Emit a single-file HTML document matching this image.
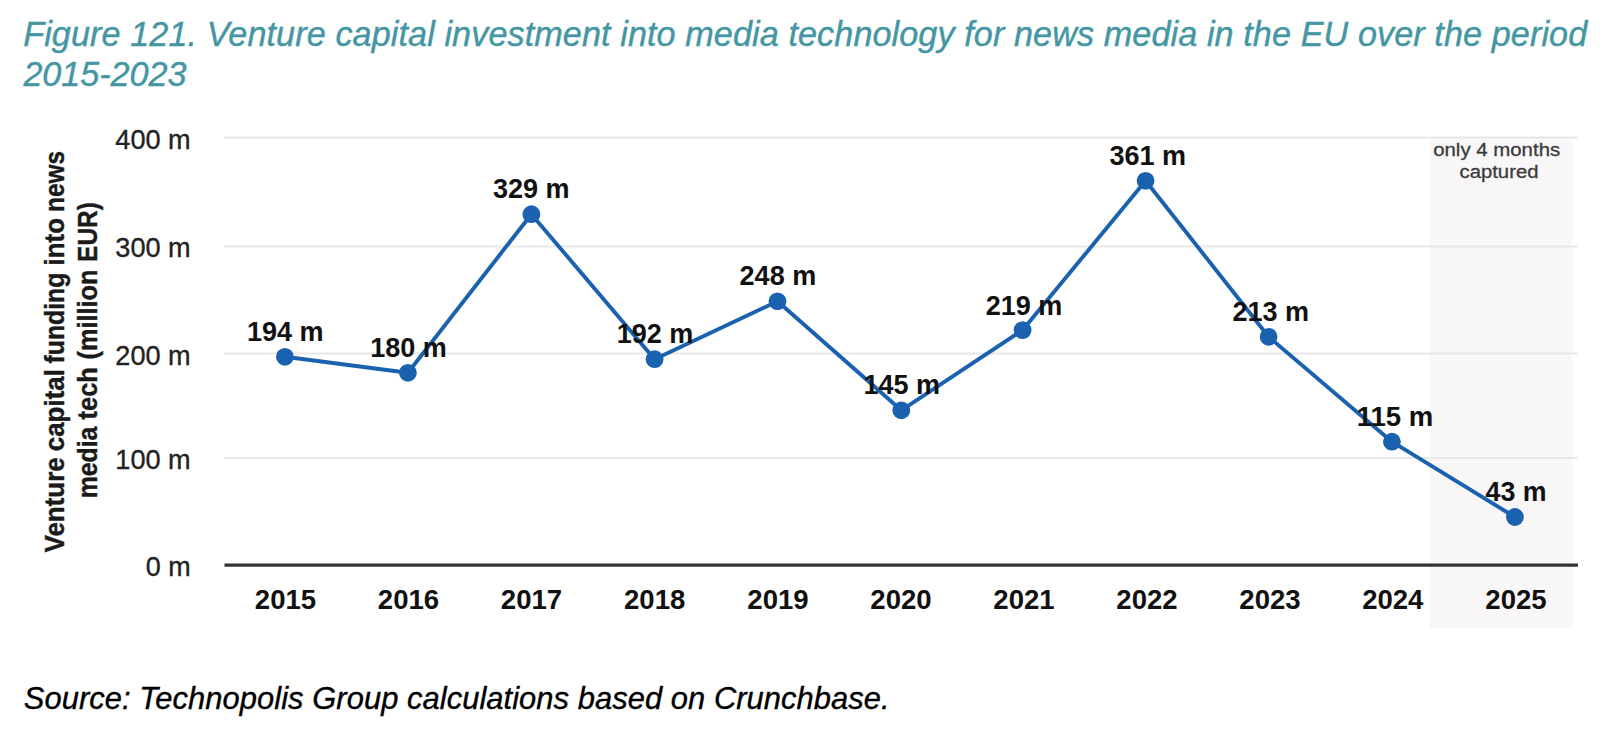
<!DOCTYPE html>
<html lang="en">
<head>
<meta charset="utf-8">
<title>Figure 121</title>
<style>
html,body{margin:0;padding:0;background:#fff;}
body{width:1616px;height:730px;overflow:hidden;position:relative;font-family:"Liberation Sans",sans-serif;}
svg{position:absolute;left:0;top:0;display:block;}
text{font-family:"Liberation Sans",sans-serif;}
.ttl{font-style:italic;font-size:34.2px;fill:#4596a3;stroke:#4596a3;stroke-width:0.4px;}
.src{font-style:italic;font-size:30.9px;fill:#000;stroke:#000;stroke-width:0.35px;}
.yl{font-size:27.5px;fill:#222;stroke:#222;stroke-width:0.35px;text-anchor:end;}
.xl{font-size:27.3px;font-weight:bold;fill:#111;text-anchor:middle;}
.dl{font-size:27px;font-weight:bold;fill:#111;text-anchor:middle;}
.yt{font-size:27px;font-weight:bold;fill:#1a1a1a;stroke:#1a1a1a;stroke-width:0.4px;text-anchor:start;}
.an{font-size:19.2px;fill:#3a3a3a;stroke:#3a3a3a;stroke-width:0.3px;text-anchor:middle;}
.grid line{stroke:#e8e8e8;stroke-width:2;}
</style>
</head>
<body>
<svg width="1616" height="730" viewBox="0 0 1616 730">
  <!-- title -->
  <text class="ttl" x="23.2" y="46" textLength="1564">Figure 121. Venture capital investment into media technology for news media in the EU over the period</text>
  <text class="ttl" x="23.4" y="85.6" textLength="163">2015-2023</text>

  <!-- shaded band -->
  <rect x="1430" y="138" width="142.6" height="490" fill="#f8f6f7"/>

  <!-- gridlines -->
  <g class="grid">
    <line x1="224.5" x2="1577.5" y1="137.4" y2="137.4"/>
    <line x1="224.5" x2="1577.5" y1="246.4" y2="246.4"/>
    <line x1="224.5" x2="1577.5" y1="353.4" y2="353.4"/>
    <line x1="224.5" x2="1577.5" y1="458" y2="458"/>
  </g>
  <line x1="224.5" x2="1578" y1="565.2" y2="565.2" stroke="#333" stroke-width="3.2"/>

  <!-- y labels -->
  <text class="yl" x="190.7" y="149.4" textLength="75.4" lengthAdjust="spacingAndGlyphs">400 m</text>
  <text class="yl" x="190.7" y="256.8" textLength="75.4" lengthAdjust="spacingAndGlyphs">300 m</text>
  <text class="yl" x="190.7" y="364.5" textLength="75.4" lengthAdjust="spacingAndGlyphs">200 m</text>
  <text class="yl" x="190.7" y="469" textLength="75.4" lengthAdjust="spacingAndGlyphs">100 m</text>
  <text class="yl" x="190.7" y="575.8" textLength="44.9" lengthAdjust="spacingAndGlyphs">0 m</text>

  <!-- y title -->
  <text class="yt" transform="translate(63.8 552.5) rotate(-90)" textLength="95.2" lengthAdjust="spacingAndGlyphs">Venture</text>
  <text class="yt" transform="translate(63.8 451.2) rotate(-90)" textLength="82.1" lengthAdjust="spacingAndGlyphs">capital</text>
  <text class="yt" transform="translate(63.8 363.5) rotate(-90)" textLength="90.9" lengthAdjust="spacingAndGlyphs">funding</text>
  <text class="yt" transform="translate(63.8 265.4) rotate(-90)" textLength="47.3" lengthAdjust="spacingAndGlyphs">into</text>
  <text class="yt" transform="translate(63.8 212.0) rotate(-90)" textLength="61.2" lengthAdjust="spacingAndGlyphs">news</text>
  <text class="yt" transform="translate(97 498.3) rotate(-90)" textLength="71.7" lengthAdjust="spacingAndGlyphs">media</text>
  <text class="yt" transform="translate(97 419.4) rotate(-90)" textLength="52.3" lengthAdjust="spacingAndGlyphs">tech</text>
  <text class="yt" transform="translate(97 359.4) rotate(-90)" textLength="89.9" lengthAdjust="spacingAndGlyphs">(million</text>
  <text class="yt" transform="translate(97 261.9) rotate(-90)" textLength="59.8" lengthAdjust="spacingAndGlyphs">EUR)</text>

  <!-- line -->
  <polyline fill="none" stroke="#1a62b0" stroke-width="3.9" stroke-linejoin="round" stroke-linecap="round"
    points="284.9,356.8 407.9,372.8 531.4,214.2 654.6,359.2 777.5,301.3 901.3,410.3 1022.6,330.1 1145.6,180.8 1268.6,336.8 1391.9,441.7 1514.9,517"/>
  <g fill="#1a62b0">
    <circle cx="284.9" cy="356.8" r="8.9"/>
    <circle cx="407.9" cy="372.8" r="8.9"/>
    <circle cx="531.4" cy="214.2" r="8.9"/>
    <circle cx="654.6" cy="359.2" r="8.9"/>
    <circle cx="777.5" cy="301.3" r="8.9"/>
    <circle cx="901.3" cy="410.3" r="8.9"/>
    <circle cx="1022.6" cy="330.1" r="8.9"/>
    <circle cx="1145.6" cy="180.8" r="8.9"/>
    <circle cx="1268.6" cy="336.8" r="8.9"/>
    <circle cx="1391.9" cy="441.7" r="8.9"/>
    <circle cx="1514.9" cy="517" r="8.9"/>
  </g>

  <!-- data labels -->
  <text class="dl" x="285.3" y="340.8" textLength="76.6" lengthAdjust="spacingAndGlyphs">194 m</text>
  <text class="dl" x="408.5" y="356.5" textLength="76.6" lengthAdjust="spacingAndGlyphs">180 m</text>
  <text class="dl" x="531.3" y="198.3" textLength="76.6" lengthAdjust="spacingAndGlyphs">329 m</text>
  <text class="dl" x="655.1" y="342.9" textLength="76.6" lengthAdjust="spacingAndGlyphs">192 m</text>
  <text class="dl" x="777.9" y="285.2" textLength="76.6" lengthAdjust="spacingAndGlyphs">248 m</text>
  <text class="dl" x="901.8" y="394.1" textLength="76.6" lengthAdjust="spacingAndGlyphs">145 m</text>
  <text class="dl" x="1024" y="314.5" textLength="76.6" lengthAdjust="spacingAndGlyphs">219 m</text>
  <text class="dl" x="1147.7" y="165.2" textLength="76.6" lengthAdjust="spacingAndGlyphs">361 m</text>
  <text class="dl" x="1270.7" y="320.8" textLength="76.6" lengthAdjust="spacingAndGlyphs">213 m</text>
  <text class="dl" x="1395" y="425.8" textLength="76.6" lengthAdjust="spacingAndGlyphs">115 m</text>
  <text class="dl" x="1516.1" y="501.4" textLength="61" lengthAdjust="spacingAndGlyphs">43 m</text>

  <!-- x labels -->
  <text class="xl" x="285.5" y="608.6" textLength="61.3" lengthAdjust="spacingAndGlyphs">2015</text>
  <text class="xl" x="408.5" y="608.6" textLength="61.3" lengthAdjust="spacingAndGlyphs">2016</text>
  <text class="xl" x="531.5" y="608.6" textLength="61.3" lengthAdjust="spacingAndGlyphs">2017</text>
  <text class="xl" x="654.7" y="608.6" textLength="61.3" lengthAdjust="spacingAndGlyphs">2018</text>
  <text class="xl" x="778" y="608.6" textLength="61.3" lengthAdjust="spacingAndGlyphs">2019</text>
  <text class="xl" x="901" y="608.6" textLength="61.3" lengthAdjust="spacingAndGlyphs">2020</text>
  <text class="xl" x="1024" y="608.6" textLength="61.3" lengthAdjust="spacingAndGlyphs">2021</text>
  <text class="xl" x="1147" y="608.6" textLength="61.3" lengthAdjust="spacingAndGlyphs">2022</text>
  <text class="xl" x="1270" y="608.6" textLength="61.3" lengthAdjust="spacingAndGlyphs">2023</text>
  <text class="xl" x="1392.8" y="608.6" textLength="61.3" lengthAdjust="spacingAndGlyphs">2024</text>
  <text class="xl" x="1516" y="608.6" textLength="61.3" lengthAdjust="spacingAndGlyphs">2025</text>

  <!-- annotation -->
  <text class="an" x="1496.7" y="155.9" textLength="127" lengthAdjust="spacingAndGlyphs">only 4 months</text>
  <text class="an" x="1499" y="177.6" textLength="79" lengthAdjust="spacingAndGlyphs">captured</text>

  <!-- source -->
  <text class="src" x="23.8" y="709.2" textLength="865.8">Source: Technopolis Group calculations based on Crunchbase.</text>
</svg>
</body>
</html>
